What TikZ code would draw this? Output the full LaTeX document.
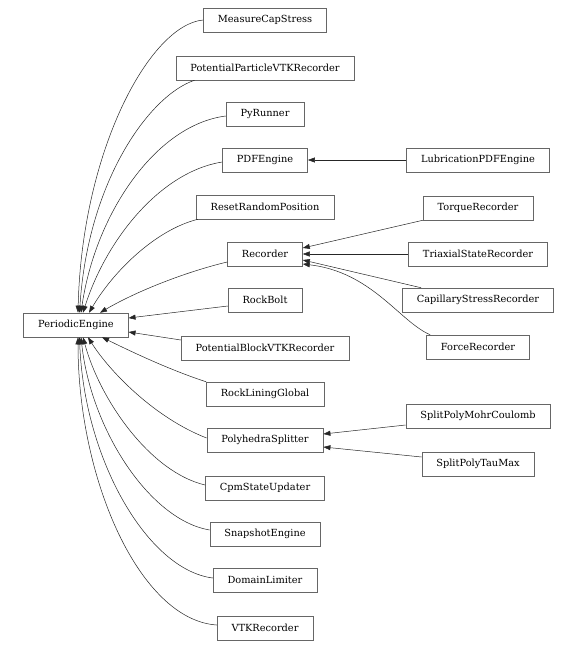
\documentclass[tikz,border=0pt]{standalone}
\usepackage{fontspec}
\setmainfont{DejaVu Serif}
\usepackage{tikz}
\usetikzlibrary{arrows,arrows.meta}

\tikzset{
  cls/.style={draw=black!60, line width=0.5pt, fill=white, minimum height=24pt,
    inner xsep=14.5pt, inner ysep=0pt, font=\fontsize{9.8}{11}\selectfont},
  inh/.style={draw=black!85, line width=0.5pt, -{Triangle[length=7pt,width=5pt]}}
}

\begin{document}
\begin{tikzpicture}[x=1pt,y=-1pt]
\useasboundingbox (0,0) rectangle (578,650);
% base class
\node[cls] (pe) at (76,325) {PeriodicEngine};
% first level
\node[cls] (mcs) at (265,20) {MeasureCapStress};
\node[cls] (ppvtk) at (265,68) {PotentialParticleVTKRecorder};
\node[cls] (pyr) at (265,114) {PyRunner};
\node[cls] (pdf) at (265,160) {PDFEngine};
\node[cls] (rrp) at (265,207) {ResetRandomPosition};
\node[cls] (rec) at (265,254) {Recorder};
\node[cls] (rb) at (265,300) {RockBolt};
\node[cls] (pbvtk) at (265,348) {PotentialBlockVTKRecorder};
\node[cls] (rlg) at (265,394) {RockLiningGlobal};
\node[cls] (phs) at (265,440) {PolyhedraSplitter};
\node[cls] (cpm) at (265,488) {CpmStateUpdater};
\node[cls] (snap) at (265,534) {SnapshotEngine};
\node[cls] (dl) at (265,580) {DomainLimiter};
\node[cls] (vtk) at (265,628) {VTKRecorder};
% second level
\node[cls] (lpdf) at (478,160) {LubricationPDFEngine};
\node[cls] (trq) at (478,208) {TorqueRecorder};
\node[cls] (tsr) at (478,254) {TriaxialStateRecorder};
\node[cls] (csr) at (478,300) {CapillaryStressRecorder};
\node[cls] (frc) at (478,347) {ForceRecorder};
\node[cls] (spmc) at (478,416) {SplitPolyMohrCoulomb};
\node[cls] (sptm) at (478,464) {SplitPolyTauMax};
% edges into PeriodicEngine, top side
\draw[inh] (mcs.west) .. controls (150,25) and (82,150) .. ([xshift=2pt]pe.north);
\draw[inh] ([xshift=19pt]ppvtk.south west) .. controls (150,95) and (88,180) .. ([xshift=3.5pt]pe.north);
\draw[inh] ([yshift=-2pt]pyr.west) .. controls (155,125) and (95,215) .. ([xshift=5pt]pe.north);
\draw[inh] ([yshift=-2pt]pdf.west) .. controls (160,172) and (106,240) .. ([xshift=7pt]pe.north);
\draw[inh] ([xshift=2pt]rrp.south west) .. controls (155,230) and (113,272) .. ([xshift=13pt]pe.north);
\draw[inh] ([yshift=-8pt]rec.west) .. controls (185,272) and (135,292) .. ([xshift=24pt]pe.north);
\draw[inh] ([yshift=-6pt]rb.west) -- ([yshift=7pt]pe.east);
% edges into PeriodicEngine, bottom side
\draw[inh] ([yshift=8pt]pbvtk.west) -- ([yshift=-7pt]pe.east);
\draw[inh] (rlg.north west) .. controls (170,370) and (132,352) .. ([xshift=26pt]pe.south);
\draw[inh] ([yshift=2pt]phs.west) .. controls (155,418) and (110,372) .. ([xshift=12pt]pe.south);
\draw[inh] ([yshift=3pt]cpm.west) .. controls (150,472) and (100,400) .. ([xshift=7pt]pe.south);
\draw[inh] ([yshift=4pt]snap.west) .. controls (150,520) and (91,430) .. ([xshift=5pt]pe.south);
\draw[inh] ([yshift=2pt]dl.west) .. controls (148,570) and (84,460) .. ([xshift=3.5pt]pe.south);
\draw[inh] ([yshift=3pt]vtk.west) .. controls (140,620) and (78,480) .. ([xshift=2pt]pe.south);
% second level edges
\draw[inh] (lpdf.west) -- (pdf.east);
\draw[inh] (trq.south west) -- ([yshift=6pt]rec.east);
\draw[inh] (tsr.west) -- (rec.east);
\draw[inh] ([xshift=19pt]csr.north west) -- ([yshift=-6pt]rec.east);
\draw[inh] ([xshift=4pt]frc.north west) .. controls (400,322) and (372,272) .. ([yshift=-10pt]rec.east);
\draw[inh] ([yshift=-9pt]spmc.west) -- ([yshift=6pt]phs.east);
\draw[inh] ([yshift=7pt]sptm.west) -- ([yshift=-7pt]phs.east);
\end{tikzpicture}
\end{document}
